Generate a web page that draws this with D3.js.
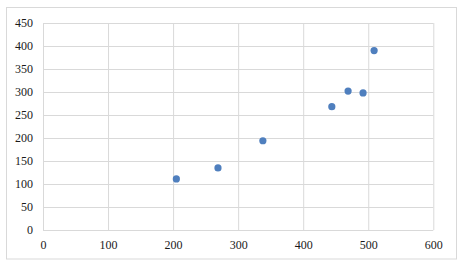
<!DOCTYPE html>
<html>
<head>
<meta charset="utf-8">
<script src="https://cdn.jsdelivr.net/npm/d3@7"></script>
<style>
  body { margin: 0; background: #fff; }
</style>
</head>
<body>
<div id="chart"></div>
<script>
// data
var xValues = [205, 269, 338, 444, 469, 492, 509];
var yValues = [111, 135, 194, 268, 302, 298, 390];
var xTicks = [0, 100, 200, 300, 400, 500, 600];
var yTicks = [0, 50, 100, 150, 200, 250, 300, 350, 400, 450];

var W = 463, H = 266;
var margin = { top: 23, right: 30, bottom: 36, left: 43 },
  width = 433.3 - margin.left,
  height = 230 - margin.top;

var svg = d3.select("#chart").append("svg")
  .attr("width", W).attr("height", H);

// chart border
svg.append("rect")
  .attr("x", 6.5).attr("y", 7.5)
  .attr("width", 450).attr("height", 251.5)
  .attr("fill", "#fff")
  .attr("stroke", "#d9d9d9");

var g = svg.append("g")
  .attr("transform", "translate(" + margin.left + "," + margin.top + ")");

var x = d3.scaleLinear().domain([0, 600]).range([0, width]);
var y = d3.scaleLinear().domain([0, 450]).range([height, 0]);

// gridlines
g.append("g")
  .attr("transform", "translate(0," + height + ")")
  .call(d3.axisBottom(x).tickValues(xTicks).tickSize(-height).tickFormat(""))
  .call(function (s) { s.select(".domain").remove(); })
  .selectAll("line").attr("stroke", "#d9d9d9");

g.append("g")
  .call(d3.axisLeft(y).tickValues(yTicks).tickSize(-width).tickFormat(""))
  .call(function (s) { s.select(".domain").remove(); })
  .selectAll("line").attr("stroke", "#d9d9d9");

// axis labels
var xAxis = g.append("g")
  .attr("transform", "translate(0," + height + ")")
  .call(d3.axisBottom(x).tickValues(xTicks).tickSize(0).tickPadding(10));
xAxis.select(".domain").remove();

var yAxis = g.append("g")
  .call(d3.axisLeft(y).tickValues(yTicks).tickSize(0).tickPadding(10));
yAxis.select(".domain").remove();

svg.selectAll("g[font-family]")
  .attr("font-family", "'Liberation Serif', 'Times New Roman', serif")
  .attr("font-size", 12);
svg.selectAll(".tick text").attr("fill", "#1a1a1a");

// points
g.selectAll("circle")
  .data(xValues.map(function (d, i) { return { x: d, y: yValues[i] }; }))
  .enter()
  .append("circle")
  .attr("cx", function (d) { return x(d.x); })
  .attr("cy", function (d) { return y(d.y); })
  .attr("r", 3.6)
  .attr("fill", "#4f7fbe");
</script>
</body>
</html>
